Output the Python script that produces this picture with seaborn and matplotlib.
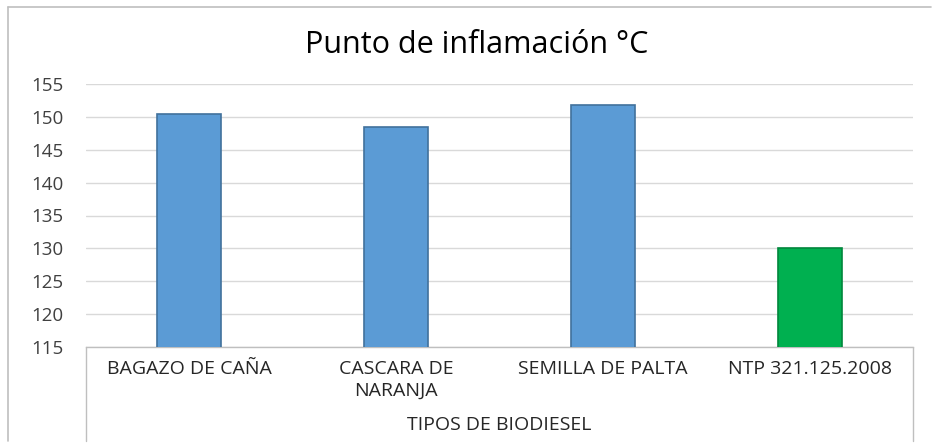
import numpy as np
import pandas as pd
import seaborn as sns
import matplotlib.pyplot as plt
from matplotlib.lines import Line2D

# datos
categorias = ['BAGAZO DE CAÑA', 'CASCARA DE NARANJA', 'SEMILLA DE PALTA', 'NTP 321.125.2008']
etiquetas = ['BAGAZO DE CAÑA', 'CASCARA DE\nNARANJA', 'SEMILLA DE PALTA', 'NTP 321.125.2008']
punto_inflamacion = [150.4, 148.4, 151.8, 130.0]
colores = ['#5B9BD5', '#5B9BD5', '#5B9BD5', '#00B050']
bordes = ['#41719C', '#41719C', '#41719C', '#00873C']
yticks = [115, 120, 125, 130, 135, 140, 145, 150, 155]

df = pd.DataFrame({'tipo': categorias, 'valor': punto_inflamacion})

sns.set_style('white')
plt.rcParams['font.family'] = ['Open Sans', 'DejaVu Sans']

W, H = 933, 446
fig = plt.figure(figsize=(W / 100, H / 100), dpi=100)
ax = fig.add_axes([86 / W, (H - 347) / H, (913 - 86) / W, (347 - 84) / H])

sns.barplot(data=df, x='tipo', y='valor', hue='tipo', palette=colores,
            saturation=1, width=0.31, legend=False, ax=ax, zorder=3)
for barra, borde in zip(ax.patches, bordes):
    barra.set_edgecolor(borde)
    barra.set_linewidth(1.2)

ax.set_ylim(115, 155)
ax.set_yticks(yticks)
ax.set_yticklabels([str(v) for v in yticks], fontsize=13.5, color='#404040')
ax.yaxis.grid(True, color='#d9d9d9', linewidth=1, zorder=0)
ax.set_axisbelow(True)
ax.tick_params(axis='y', length=0, pad=16)

ax.set_xticks(range(len(etiquetas)))
ax.set_xticklabels(etiquetas, fontsize=14, color='#262626', linespacing=1.3)
ax.tick_params(axis='x', length=0, pad=9)
ax.set_xlabel('TIPOS DE BIODIESEL', fontsize=14, color='#262626', labelpad=12)
ax.set_ylabel('')

for lado in ['top', 'right', 'left']:
    ax.spines[lado].set_visible(False)
ax.spines['bottom'].set_color('#bfbfbf')
ax.spines['bottom'].set_linewidth(1)

# titulo centrado en el area del grafico (como en Excel)
fig.text(477 / W, (H - 45) / H, 'Punto de inflamación °C', fontsize=22,
         color='#000000', ha='center', va='center')

# caja de categorias y marco exterior
y_ax = (H - 347) / H
y_bot = (H - 441) / H
for xp in [86, 913]:
    fig.add_artist(Line2D([xp / W, xp / W], [y_ax, y_bot], color='#bfbfbf', linewidth=1))
fig.add_artist(Line2D([8 / W, 8 / W], [(H - 7) / H, y_bot], color='#bfbfbf', linewidth=1.2))
fig.add_artist(Line2D([8 / W, 931 / W], [(H - 7) / H, (H - 7) / H], color='#bfbfbf', linewidth=1.2))

fig.savefig('out.png', dpi=100, facecolor='white')
